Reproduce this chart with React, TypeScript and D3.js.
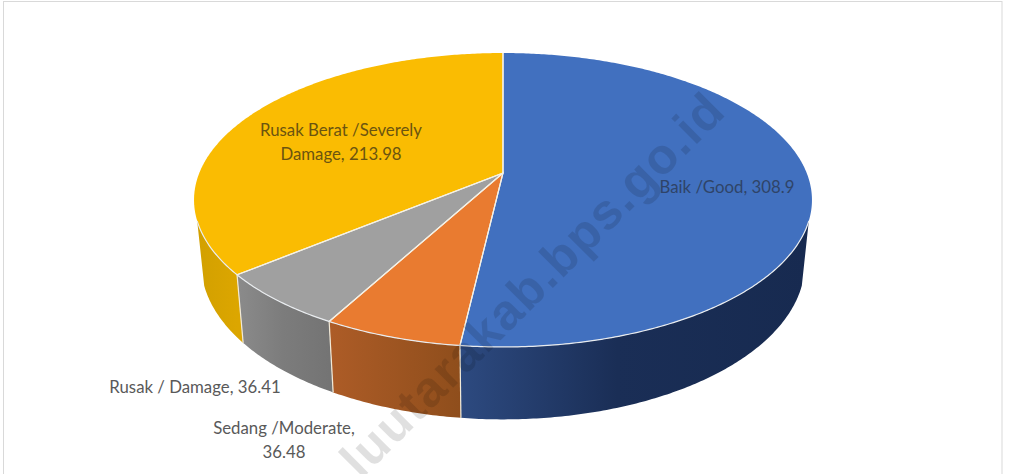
import React from "react";
import * as d3 from "d3";

// Road condition by class, length in km
const categories = ["Baik /Good", "Sedang /Moderate", "Rusak / Damage", "Rusak Berat /Severely Damage"];
const values = [308.9, 36.48, 36.41, 213.98];
const topColors = ["#4170bf", "#e97b30", "#a0a0a0", "#fabc02"];
const labelLines = [
  ["Baik /Good, 308.9"],
  ["Sedang /Moderate,", "36.48"],
  ["Rusak / Damage, 36.41"],
  ["Rusak Berat /Severely", "Damage, 213.98"],
];
const labelAnchors: [number, number][] = [[727, 193], [284, 434], [195, 393], [341, 136]];
const labelFills = ["#2f4468", "#595959", "#595959", "#6b5410"];
const sideStops = [
  [["0", "#2d4a80"], ["0.45", "#1a2e56"], ["1", "#172a50"]],
  [["0", "#ad5c27"], ["1", "#8f4e1c"]],
  [["0", "#8b8b8b"], ["0.5", "#7c7c7c"], ["1", "#747474"]],
  [["0", "#d2a000"], ["1", "#dca600"]],
];

const WIDTH = 1009;
const HEIGHT = 474;

// Tilted disc in perspective: apex, axis half-lengths and foreshortening
const apexX = 503;
const apexY = 173;
const axisX = 303.7;
const axisY = 142;
const foreshorten = 0.1837;
// The lower rim of the cylinder, relative to the upper one
const lowerShift = 62;
const lowerScaleX = 0.977;
const lowerScaleY = 1.06;

const upper = (a: number): [number, number] => {
  const u = Math.sin(a);
  const v = Math.cos(a);
  const w = 1 + foreshorten * v;
  return [apexX + (axisX * u) / w, apexY - (axisY * v) / w];
};
const lower = (a: number): [number, number] => {
  const [x, y] = upper(a);
  return [apexX + (x - apexX) * lowerScaleX, apexY + lowerShift + (y - apexY) * lowerScaleY];
};
const sweep = (a0: number, a1: number) => {
  const n = Math.max(2, Math.ceil(Math.abs(a1 - a0) / 0.01));
  return d3.range(n + 1).map((i) => a0 + ((a1 - a0) * i) / n);
};
const line = d3.line<[number, number]>();

const arcs = d3.pie<number>().sort(null).value((d) => d).startAngle(0).endAngle(2 * Math.PI)(values);

// The wall shows only on the camera-facing part of the rim
const deg = Math.PI / 180;
const wallFrom = 108.5 * deg;
const wallTo = 251.5 * deg;
const wallRange = (i: number): [number, number] => [
  Math.max(arcs[i].startAngle, wallFrom),
  Math.min(arcs[i].endAngle, wallTo),
];

export default function App() {
  return (
    <svg width={WIDTH} height={HEIGHT} style={{ position: "fixed", left: 0, top: 0, background: "#fff" }}>
      <defs>
        {arcs.map((_, i) => {
          const [a0, a1] = wallRange(i);
          const xs = [upper(a0)[0], upper(a1)[0]];
          return (
            <linearGradient key={i} id={`wall${i}`} gradientUnits="userSpaceOnUse" x1={Math.min(...xs)} x2={Math.max(...xs)} y1={0} y2={0}>
              {sideStops[i].map(([o, c]) => <stop key={o} offset={o} stopColor={c} />)}
            </linearGradient>
          );
        })}
      </defs>
      <rect x={3.5} y={1.5} width={998.5} height={480} fill="#fff" stroke="#d9d9d9" strokeWidth={1} />
      <g>
        {arcs.map((_, i) => {
          const [a0, a1] = wallRange(i);
          const pts = [...sweep(a0, a1).map(upper), ...sweep(a1, a0).map(lower)];
          return <path key={i} d={line(pts)! + "Z"} fill={`url(#wall${i})`} />;
        })}
        {arcs.map((d, i) =>
          i === 0 ? null : (
            <path key={i} d={line([upper(d.startAngle), lower(d.startAngle)])!} stroke="#f2ead8" strokeWidth={1.2} fill="none" />
          )
        )}
        {arcs.map((d, i) => {
          const pts: [number, number][] = [[apexX, apexY], ...sweep(d.startAngle, d.endAngle).map(upper)];
          return <path key={i} d={line(pts)! + "Z"} fill={topColors[i]} />;
        })}
        {arcs.map((d, i) => {
          const pts: [number, number][] = [upper(d.startAngle), [apexX, apexY], upper(d.endAngle)];
          return <path key={i} d={line(pts)!} fill="none" stroke="#f4f1e6" strokeWidth={1.2} />;
        })}
        <path d={line(sweep(wallFrom, wallTo).map(upper))!} fill="none" stroke="#e9ecef" strokeWidth={1.2} />
      </g>
      <text
        transform="translate(728,113) rotate(-45)"
        textAnchor="end"
        fontFamily="'Liberation Sans', Arial, sans-serif"
        fontWeight={700}
        fontSize={50}
        letterSpacing={1.5}
        fill="#000"
        fillOpacity={0.12}
      >
        luutarakab.bps.go.id
      </text>
      {labelLines.map((rows, i) => (
        <text key={categories[i]} textAnchor="middle" fontFamily="Lato, 'Noto Sans', sans-serif" fontSize={16.8} fill={labelFills[i]}>
          {rows.map((r, j) => (
            <tspan key={j} x={labelAnchors[i][0]} y={labelAnchors[i][1] + j * 23.5}>{r}</tspan>
          ))}
        </text>
      ))}
    </svg>
  );
}
